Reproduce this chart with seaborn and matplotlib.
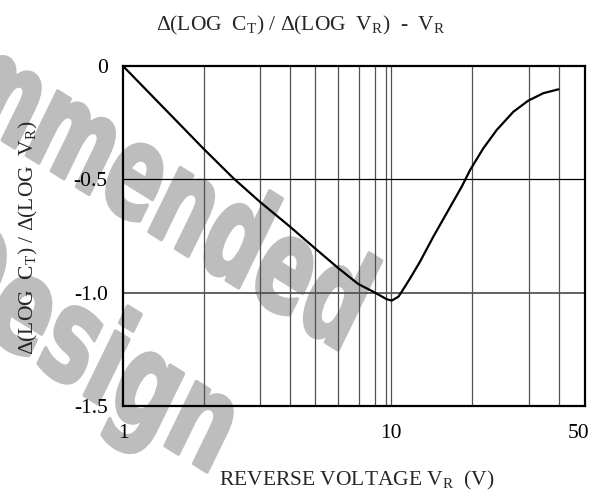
import numpy as np
import seaborn as sns
import matplotlib.pyplot as plt
from matplotlib.textpath import TextPath
from matplotlib.patches import PathPatch
from matplotlib.font_manager import FontProperties
from matplotlib.transforms import Affine2D, IdentityTransform

# curve
vr = [1.0, 1.99, 2.58, 3.24, 4.20, 5.20, 6.36, 7.55, 8.59, 9.64,
      10.06, 10.65, 10.96, 11.78, 12.83, 14.38, 18.36, 19.72, 22.1, 24.8,
      28.6, 32.5, 37.0, 42.1]
ratio = [0.0, -0.363, -0.495, -0.599, -0.709, -0.804, -0.892,
         -0.962, -0.996, -1.029, -1.035, -1.018, -0.996, -0.937, -0.863, -0.753,
         -0.532, -0.459, -0.363, -0.282, -0.202, -0.153, -0.120, -0.103]

# vertical grid lines as drawn in the original (not exact decades)
grid_x = [2.0, 3.24, 4.20, 5.20, 6.32, 7.60, 8.71, 9.58, 10.0, 20.0, 32.7, 42.2]
grid_y = [-0.5, -1.0]
x_ticks = [1, 10, 50]
x_ticklabels = ['1', '10', '50']
y_ticks = [0, -0.5, -1.0, -1.5]
y_ticklabels = ['0', '-0.5', '-1.0', '-1.5']

W, H = 613, 495
FS = 15.5

sns.set_theme(style='white')
plt.rcParams['font.family'] = ['Liberation Serif', 'DejaVu Serif']
plt.rcParams['mathtext.fontset'] = 'custom'
plt.rcParams['mathtext.rm'] = 'Liberation Serif'
plt.rcParams['mathtext.it'] = 'Liberation Serif:italic'

fig = plt.figure(figsize=(W / 100, H / 100), dpi=100)
fig.patch.set_facecolor('white')

# watermark behind everything
def watermark(text, x_end, y_end, sx, sy, angle, skew):
    fp = FontProperties(family='DejaVu Sans', weight='bold')
    tp = TextPath((0, 0), text, size=100, prop=fp)
    bb = tp.get_extents()
    tr = (Affine2D().translate(-bb.x1, 0).scale(sx, sy).skew_deg(skew, 0)
          .rotate_deg(-angle).translate(x_end, H - y_end))
    patch = PathPatch(tr.transform_path(tp), transform=IdentityTransform(),
                      facecolor='#bdbdbd', edgecolor='#bdbdbd', lw=2.5,
                      joinstyle='round', zorder=-5)
    fig.add_artist(patch)

watermark('Not Recommended', 338, 350, 0.84, 1.3, 32, -6)
watermark('for New Design', 207, 472, 0.90, 1.3, 32, -6)

ax = fig.add_axes([123 / W, 1 - 406 / H, 461.5 / W, 340 / H])
ax.set_facecolor('none')
ax.set_xscale('log')

for gx in grid_x:
    ax.axvline(gx, color='#505050', lw=0.9, zorder=1)
ax.axhline(grid_y[0], color='black', lw=0.9, zorder=1)
ax.axhline(grid_y[1], color='#555555', lw=1.3, zorder=1)

sns.lineplot(x=vr, y=ratio, sort=False, color='black', lw=1.6, ax=ax, zorder=3)

ax.set_xlim(1, 52.7)
ax.set_ylim(-1.5, 0)
ax.set_xticks(x_ticks)
ax.set_xticklabels(x_ticklabels)
ax.xaxis.set_minor_locator(plt.NullLocator())
ax.set_yticks(y_ticks)
ax.set_yticklabels(y_ticklabels)
ax.tick_params(axis='both', length=0, labelsize=FS, colors='black')
ax.tick_params(axis='x', pad=13)
ax.tick_params(axis='y', pad=11)
for s in ax.spines.values():
    s.set_visible(True)
    s.set_color('black')
    s.set_linewidth(1.6)
    s.set_zorder(4)

fig.text(301 / W, 1 - 25 / H,
         r'Δ(LOG  $\mathrm{C_T}$) / Δ(LOG  $\mathrm{V_R}$)  -  $\mathrm{V_R}$',
         ha='center', va='center', fontsize=FS)
fig.text(28 / W, 1 - 238 / H,
         r'Δ(LOG  $\mathrm{C_T}$) / Δ(LOG  $\mathrm{V_R}$)',
         ha='center', va='center', rotation=90, fontsize=FS)
fig.text(357 / W, 1 - 480 / H, r'REVERSE VOLTAGE $\mathrm{V_R}$  (V)',
         ha='center', va='center', fontsize=FS)

fig.savefig('out.png', dpi=100, facecolor='white')
